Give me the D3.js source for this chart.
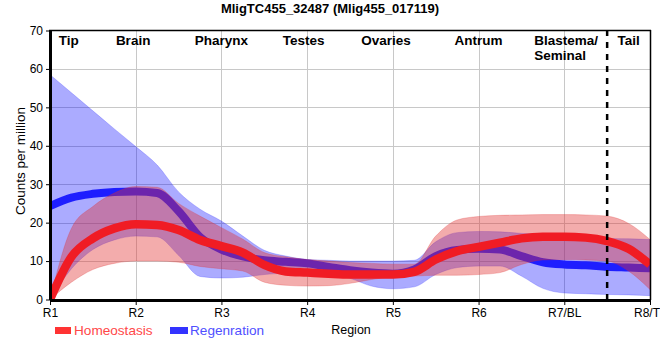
<!DOCTYPE html>
<html><head><meta charset="utf-8">
<script src="https://cdn.jsdelivr.net/npm/d3@7"></script>
<style>body{margin:0;background:#fff}svg{display:block;font-family:"Liberation Sans",Arial,sans-serif}</style>
</head><body><svg id="c" width="660" height="360"></svg>
<script>
// ---- data ----
const title = "MligTC455_32487 (Mlig455_017119)";
const categories = ["R1","R2","R3","R4","R5","R6","R7/BL","R8/T"];
const regionLabels = ["Tip","Brain","Pharynx","Testes","Ovaries","Antrum","Blastema/\nSeminal","Tail"];
const regionLabelPos = [0.22,0.97,2.0,2.96,3.92,5.0,5.65,6.75];
const regionLabelAnchor = ["middle","middle","middle","middle","middle","middle","start","middle"];
const yTicks = [0,10,20,30,40,50,60,70];
const samplePos = [0,0.25,0.5,0.75,1,1.25,1.5,1.75,2,2.25,2.5,2.75,3,3.25,3.5,3.75,4,4.25,4.5,4.75,5,5.25,5.5,5.75,6,6.25,6.5,6.75,7];
const homeoMean  = [0,11.1,15.9,18.5,19.6,19.4,18.1,15.5,13.9,12.2,9.0,7.3,7.0,6.7,6.5,6.5,6.5,7.2,10.4,12.6,13.7,14.8,15.9,16.3,16.3,16.1,15.2,13.2,9.1];
const homeoUpper = [0,18.5,24.2,27.7,29.4,29.2,25.0,21.7,18.7,15.7,12.2,11.1,10.4,10.0,9.6,9.4,9.2,9.2,16.5,20.7,21.6,21.9,22.0,22.1,22.1,22.0,21.7,19.8,15.6];
const homeoLower = [0,4.5,7.8,9.4,10.0,10.0,9.7,8.6,8.0,7.4,4.5,3.7,3.5,3.6,4.2,5.2,5.9,6.1,6.3,6.3,6.5,7.0,9.1,10.3,10.4,10.3,10.0,7.4,2.6];
const regenMean  = [24.3,26.5,27.5,28.0,28.1,27.7,23.0,16.3,13.0,11.2,10.2,9.8,9.4,8.5,7.6,7.0,6.7,7.8,11.3,12.9,13.2,13.0,11.3,9.7,9.1,8.9,8.5,8.3,8.1];
const regenUpper = [58.5,53.8,49.1,44.4,39.8,35.0,28.0,23.5,20.4,16.5,12.8,11.3,10.4,10.2,10.0,10.0,10.0,10.2,15.0,17.4,17.7,17.6,17.2,17.0,16.7,16.3,15.9,15.8,15.6];
const regenLower = [0,8.0,13.0,15.5,16.5,16.3,11.5,6.0,5.6,5.8,6.5,6.8,6.8,6.7,5.5,3.5,2.8,3.3,6.5,8.3,8.7,8.7,6.1,2.9,1.7,1.5,1.3,1.2,1.0];
const dividerPos = 6.5;
const seriesNames = ["Homeostasis","Regenration"];

// ---- drawing ----
const svg = d3.select("#c");
const x = d3.scaleLinear().domain([0,7]).range([50,650]);
const y = d3.scaleLinear().domain([0,70]).range([299.5,30.5]);

svg.append("defs").append("clipPath").attr("id","clip")
  .append("rect").attr("x",50).attr("y",30).attr("width",600).attr("height",270);

// grid
const g = svg.append("g");
g.selectAll(".hg").data(yTicks.filter(v=>v>0&&v<70)).join("line")
  .attr("x1",50).attr("x2",650).attr("y1",d=>Math.round(y(d))+0.5).attr("y2",d=>Math.round(y(d))+0.5)
  .attr("stroke","#c8c8c8").attr("stroke-width",1);
g.selectAll(".vg").data(d3.range(1,7)).join("line")
  .attr("y1",30).attr("y2",300).attr("x1",d=>Math.round(x(d))+0.5).attr("x2",d=>Math.round(x(d))+0.5)
  .attr("stroke","#c8c8c8").attr("stroke-width",1);

function rows(mean, lo, hi){ return samplePos.map((p,i)=>({p, m:mean[i], lo:lo[i], hi:hi[i]})); }
const H = rows(homeoMean, homeoLower, homeoUpper);
const R = rows(regenMean, regenLower, regenUpper);
const area = d3.area().x(d=>x(d.p)).y0(d=>y(d.lo)).y1(d=>y(d.hi)).curve(d3.curveMonotoneX);
const line = d3.line().x(d=>x(d.p)).y(d=>y(d.m)).curve(d3.curveMonotoneX);

const plot = svg.append("g").attr("clip-path","url(#clip)");
plot.append("path").attr("d",area(R)).attr("fill","#0000ff").attr("fill-opacity",0.33)
  .attr("stroke","#3030ff").attr("stroke-opacity",0.25).attr("stroke-width",1);
plot.append("path").attr("d",line(R)).attr("fill","none").attr("stroke","#1e1eff").attr("stroke-width",8);
plot.append("path").attr("d",area(H)).attr("fill","#e03030").attr("fill-opacity",0.4)
  .attr("stroke","#e03030").attr("stroke-opacity",0.25).attr("stroke-width",1);
plot.append("path").attr("d",line(H)).attr("fill","none").attr("stroke","#f01c24").attr("stroke-width",8.5);

// divider
svg.append("line").attr("x1",x(dividerPos)).attr("x2",x(dividerPos)).attr("y1",30).attr("y2",305)
  .attr("stroke","#000").attr("stroke-width",2.5).attr("stroke-dasharray","6,6");

// axes
const ya = svg.append("g").attr("transform","translate(50,0)")
  .call(d3.axisLeft(y).tickValues(yTicks).tickSize(4).tickSizeOuter(0).tickPadding(3));
ya.select(".domain").attr("stroke-width",3);
ya.selectAll("text").attr("font-size",12).attr("fill","#000").attr("font-family","Liberation Sans, Arial, sans-serif");
const xa = svg.append("g").attr("transform","translate(0,300)")
  .call(d3.axisBottom(x).tickValues(d3.range(0,8)).tickFormat(i=>categories[i]).tickSize(5).tickSizeOuter(0).tickPadding(3));
xa.select(".domain").attr("stroke-width",3);
xa.selectAll("text").attr("font-size",12).attr("fill","#000").attr("font-family","Liberation Sans, Arial, sans-serif");
// last label sits against the right edge
xa.selectAll(".tick").filter(d=>d===7).select("text").attr("text-anchor","end").attr("x",9.5);

// borders
svg.append("line").attr("x1",49).attr("x2",651).attr("y1",30.5).attr("y2",30.5).attr("stroke","#000").attr("stroke-width",1.5);
svg.append("line").attr("x1",650.5).attr("x2",650.5).attr("y1",30).attr("y2",300).attr("stroke","#000").attr("stroke-width",1.5);

// region labels
regionLabels.forEach((t,i)=>{
  const tx = svg.append("text").attr("x",x(regionLabelPos[i])).attr("y",44.5)
    .attr("text-anchor",regionLabelAnchor[i]).attr("font-size",13.5).attr("font-weight","bold").attr("fill","#000");
  t.split("\n").forEach((s,j)=>tx.append("tspan").attr("x",x(regionLabelPos[i])).attr("dy",j?15:0).text(s));
});

// title
svg.append("text").attr("x",330).attr("y",13).attr("text-anchor","middle")
  .attr("font-size",13).attr("font-weight","bold").text(title);

// axis titles
svg.append("text").attr("transform","translate(25,161) rotate(-90)").attr("text-anchor","middle")
  .attr("font-size",13.5).text("Counts per million");
svg.append("text").attr("x",351).attr("y",334).attr("text-anchor","middle").attr("font-size",12.5).text("Region");

// legend
const legColors = ["#ff3333","#3333ff"], legText = ["#ff4848","#5050ff"], legX = [55,170];
seriesNames.forEach((n,i)=>{
  svg.append("rect").attr("x",legX[i]).attr("y",327).attr("width",i?18:16).attr("height",7).attr("fill",legColors[i]);
  svg.append("text").attr("x",legX[i]+(i?20:19)).attr("y",334.5).attr("font-size",13.6).attr("fill",legText[i]).text(n);
});
</script></body></html>
